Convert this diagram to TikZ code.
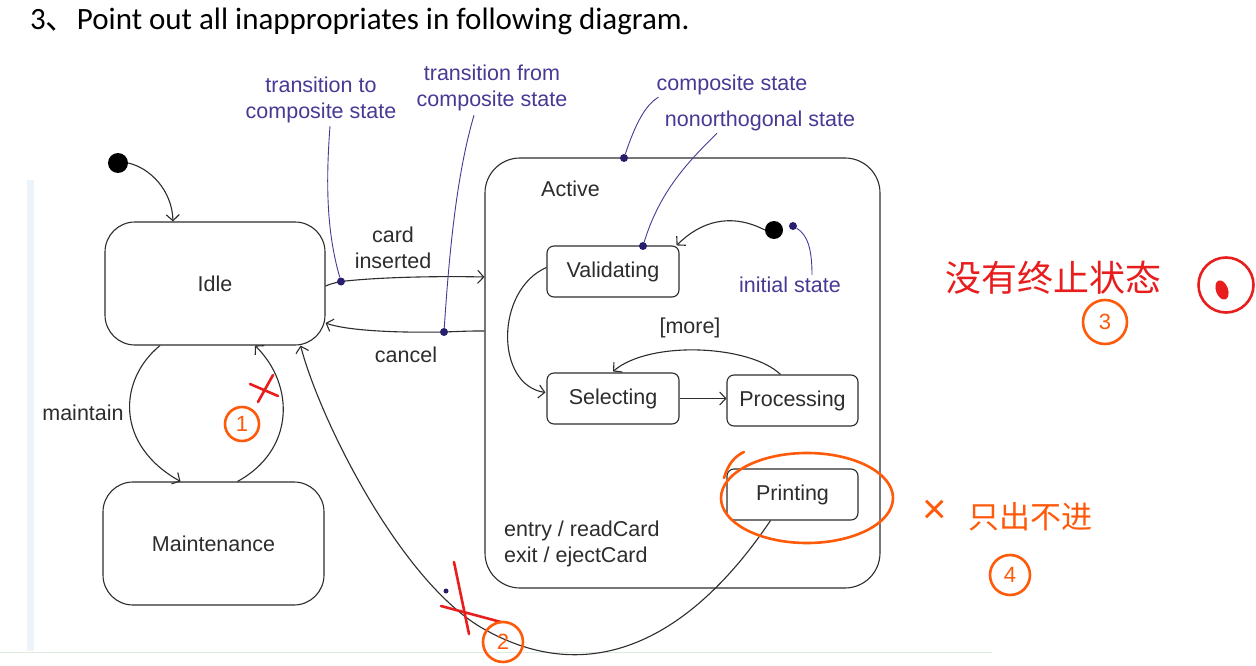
\documentclass[tikz,border=0pt]{standalone}
\usepackage{fontspec}
\setmainfont{Liberation Sans}
\newfontfamily\titlefont{Carlito}
\newfontfamily\cjk{Noto Sans CJK SC}
\usetikzlibrary{arrows.meta,calc}
\definecolor{ink}{RGB}{45,45,45}
\definecolor{note}{RGB}{72,58,148}
\definecolor{notedot}{RGB}{40,30,110}
\definecolor{pen}{RGB}{232,30,30}
\definecolor{marker}{RGB}{255,90,10}
\definecolor{framegreen}{RGB}{222,234,222}
\definecolor{frameblue}{RGB}{236,244,250}
\newcommand\diagfont{\fontsize{21.5}{26}\selectfont}
\begin{document}
\begin{tikzpicture}[x=1pt,y=-1pt,
  box/.style={draw=ink, line width=1.1pt, fill=white, inner sep=0pt, font=\diagfont, text=ink},
  bigstate/.style={box, rounded corners=30pt, minimum width=220pt, minimum height=123pt},
  smallstate/.style={box, rounded corners=7pt, minimum width=132pt, minimum height=51pt},
  arr/.style={draw=ink, line width=1.1pt, -{Straight Barb[length=6pt,width=13pt]}},
  lead/.style={draw=note, line width=0.9pt},
  ndot/.style={circle, fill=notedot, inner sep=0pt, minimum size=8pt},
  initdot/.style={circle, fill=black, inner sep=0pt, minimum size=20pt},
  notetext/.style={text=note, font=\diagfont, align=center, inner sep=1pt},
  plain/.style={text=ink, font=\diagfont, align=center, inner sep=1pt},
  pencil/.style={draw=pen, line width=2.6pt, line cap=round},
  marker/.style={draw=marker, line width=2.6pt, line cap=round},
  circled/.style={circle, draw=marker, line width=2.6pt, inner sep=0pt, text=marker, font=\fontsize{22}{22}\selectfont}
]
\useasboundingbox (0,0) rectangle (1256,666);
\fill[white] (0,0) rectangle (1256,666);
% faint frame of the pasted figure
\fill[frameblue] (27,180) rectangle (34,651);
\draw[framegreen, line width=1pt] (0,652) -- (992,652);

% title
\node[anchor=base west, inner sep=0pt, font=\titlefont\fontsize{31}{34}\selectfont] (title) at (30,30)
  {3{\cjk 、}Point out all inappropriates in following diagram.};

% states
\node[initdot] (init) at (118,163) {};
\node[bigstate] (idle) at (215,283.5) {Idle};
\node[bigstate, minimum width=221pt] (maint) at (213.5,543.5) {Maintenance};
\node[box, fill=none, rounded corners=35pt, minimum width=395pt, minimum height=430pt] (active) at (682.5,373) {};
\node[plain, anchor=west] (activelbl) at (540,189) {Active};
\node[smallstate] (val) at (613,271.5) {Validating};
\node[smallstate] (sel) at (613,398.5) {Selecting};
\node[smallstate, minimum width=131pt] (proc) at (792.5,400.5) {Processing};
\node[smallstate, minimum width=131pt] (print) at (792.5,494.5) {Printing};
\node[initdot, minimum size=18pt] (init2) at (774,230) {};
\node[plain, anchor=west, align=left] (acts) at (503,544) {entry / readCard\\exit / ejectCard};

% notes
\node[notetext] (tto) at (321,100) {transition to\\composite state};
\node[notetext] (tfrom) at (492,88) {transition from\\composite state};
\node[notetext] (comp) at (732,85) {composite state};
\node[notetext] (nonorth) at (760,121) {nonorthogonal state};
\node[notetext] (initlbl) at (790,285) {initial state};

% labels
\node[plain] (cilbl) at (393,248) {card\\inserted};
\node[plain] (cancellbl) at (406,355) {cancel};
\node[plain] (mlbl) at (83,413) {maintain};
\node[plain] (morelbl) at (690,328) {[more]};

% transitions
\draw[arr] (init.east) .. controls (150,168) and (172,190) .. ($(idle.north)+(-42,0)$);
\draw[arr] ($(idle.south)+(-55,0)$) .. controls (118,380) and (115,445) .. ($(maint.north)+(-33,0)$);
\draw[arr] ($(maint.north)+(24,0)$) .. controls (295,450) and (295,385) .. ($(idle.south)+(40,0)$);

\coordinate (d1) at (341,281.5);
\draw[arr] ($(idle.east)+(0,2.5)$) .. controls (332,283.5) .. (d1) .. controls (380,277) and (440,276) .. ($(active.west)+(0,-96)$);
\coordinate (d2) at (444,332);
\draw[arr] ($(active.west)+(0,-42)$) .. controls (470,331) .. (d2) .. controls (390,333) and (345,330) .. ($(idle.east)+(0,39.5)$);

\draw[arr] (init2.west) .. controls (730,212) and (700,222) .. ($(val.north east)+(-3,0)$);
\draw[arr] ($(val.west)+(0,-4)$) .. controls (495,290) and (495,385) .. ($(sel.west)+(-1,-6)$);
\draw[arr] (sel.east) -- (sel.east -| proc.west);
\draw[arr] ($(proc.north)+(-12,0)$) .. controls (750,345) and (650,340) .. ($(sel.north)+(0,-1)$);
\draw[arr] ($(print.south)+(-22,0)$) .. controls (690,640) and (590,690) .. (482,628) .. controls (400,580) and (320,420) .. ($(idle.south east)+(-25,0)$);

% leaders
\node[ndot] (d1dot) at (d1) {};
\node[ndot] (d2dot) at (d2) {};
\node[ndot] (compdot) at (624,158) {};
\node[ndot] (valdot) at (643,246) {};
\node[ndot] (idot) at (793,226) {};
\node[ndot, minimum size=5pt] (stray) at (446,591) {};
\draw[lead] (d1dot) .. controls (326,230) and (326,180) .. ($(tto.south)+(9,2)$);
\draw[lead] (d2dot) .. controls (450,240) and (458,170) .. ($(tfrom.south)+(-18,3)$);
\draw[lead] (compdot) .. controls (635,125) and (645,105) .. ($(comp.south west)+(3,1)$);
\draw[lead] (valdot) .. controls (660,190) and (690,160) .. ($(nonorth.south)+(-43,1)$);
\draw[lead] (idot) .. controls (808,235) and (812,250) .. ($(initlbl.north)+(22,-1)$);

% hand-written marks
\draw[pencil] (250,384) -- (278,396);
\draw[pencil] (273,375) -- (258,402);
\node[circled, minimum size=34pt] (m1) at (242,424) {1};
\draw[pencil] (454,562) -- (469,634);
\draw[pencil] (441,606) -- (501,622);
\node[circled, minimum size=40pt] (m2) at (503,642) {2};
\node[text=pen, font=\cjk\fontsize{36}{36}\selectfont, anchor=west, inner sep=0pt] (t3) at (945,278) {没有终止状态};
\node[circled, minimum size=44pt] (m3) at (1105,322) {3};
\node[circle, draw=pen, line width=2.6pt, minimum size=55pt, inner sep=0pt] (m0) at (1226,285) {};
\fill[pen, rotate around={20:(1222,290)}] (1222,290) ellipse [x radius=6pt, y radius=10pt];
\draw[marker] (807,498) ellipse [x radius=86pt, y radius=45pt];
\draw[marker] (744,452) .. controls (735,456) and (728,464) .. (724,478);
\node[text=marker, font=\fontsize{42}{42}\selectfont, inner sep=0pt] (x4) at (935,512) {×};
\node[text=marker, font=\cjk\fontsize{31}{31}\selectfont, anchor=west, inner sep=0pt] (t4) at (968,517) {只出不进};
\node[circled, minimum size=40pt] (m4) at (1010,575) {4};
\end{tikzpicture}
\end{document}
